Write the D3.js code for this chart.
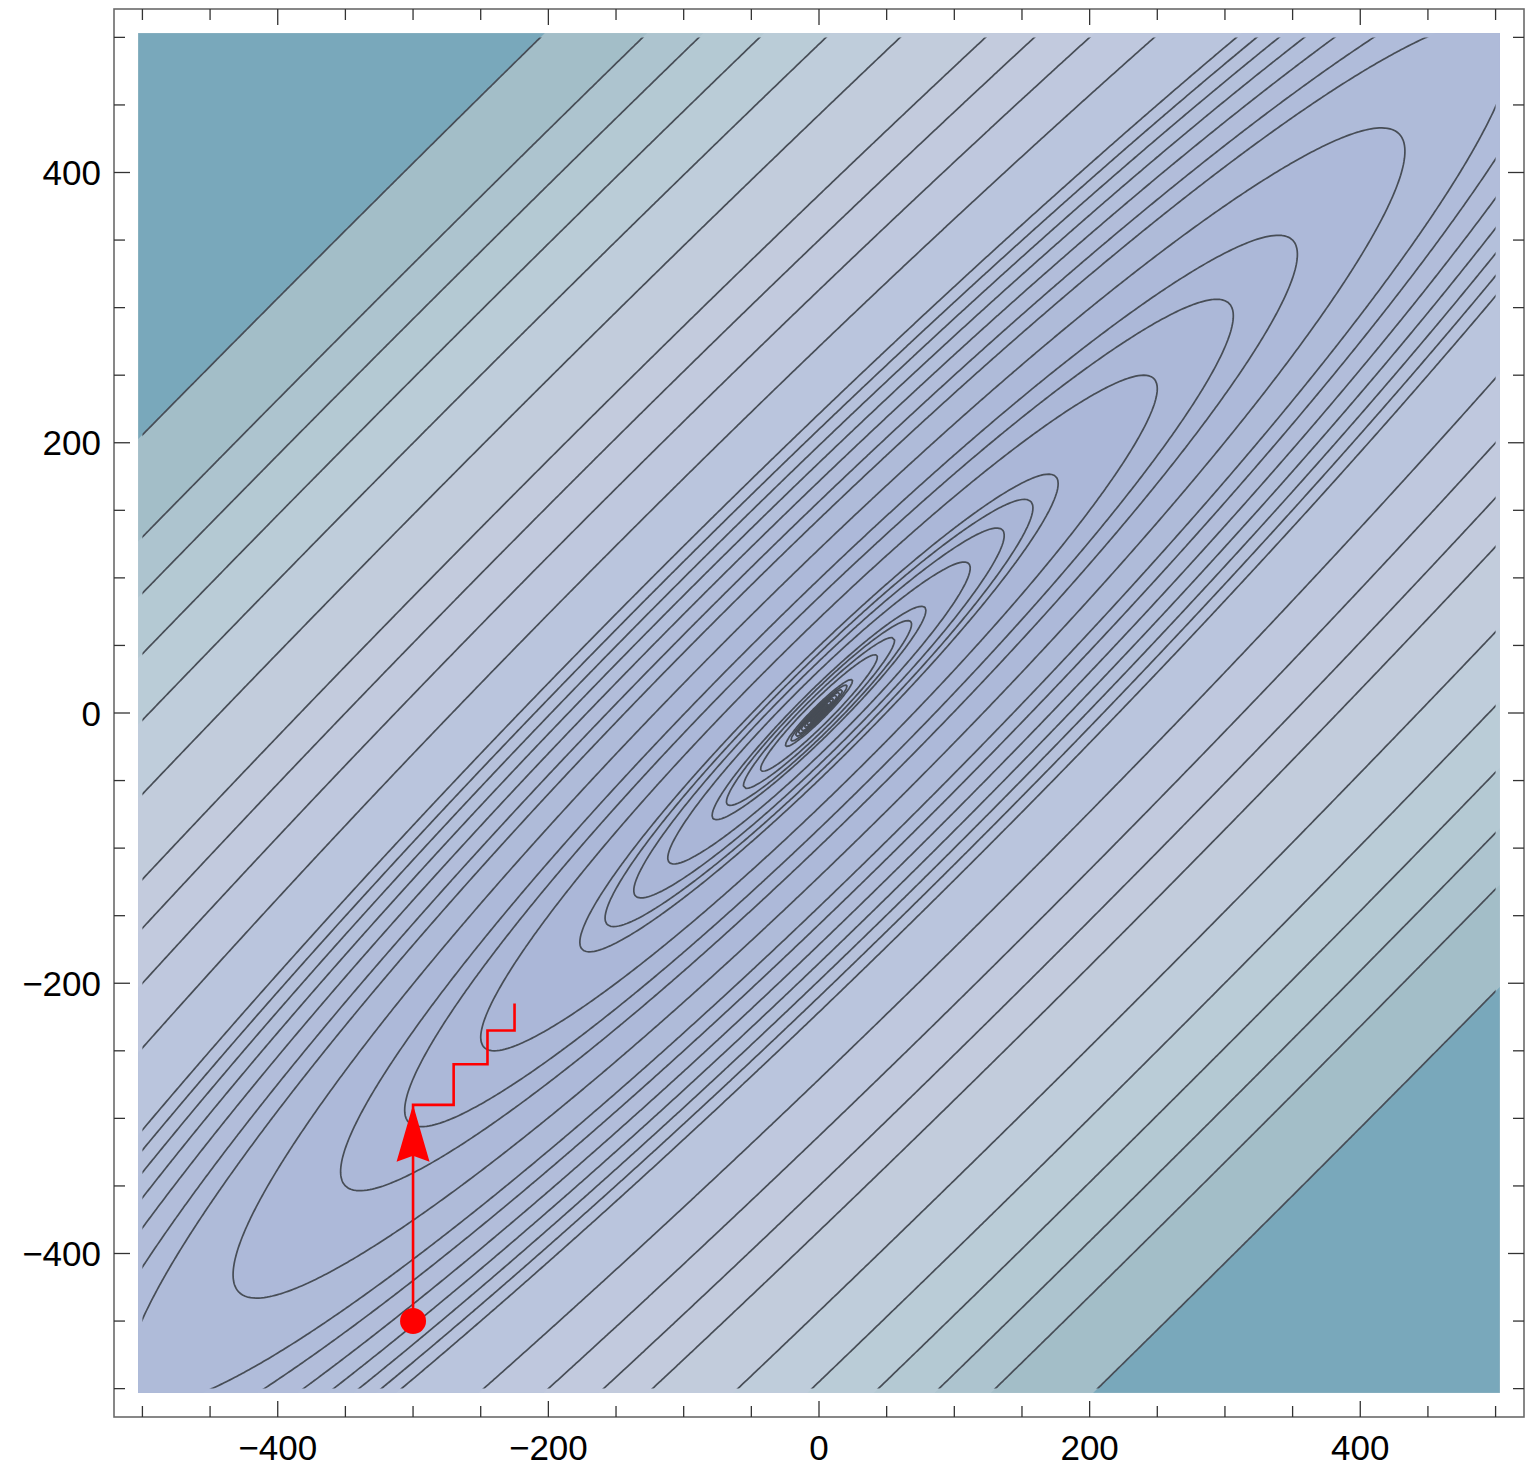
<!DOCTYPE html>
<html>
<head>
<meta charset="utf-8">
<script src="https://cdn.jsdelivr.net/npm/d3@7"></script>
<style>
  body { margin: 0; background: #fff; }
  text { font-family: "Liberation Sans", Arial, sans-serif; }
</style>
</head>
<body>
<script>
// contour levels (units of 50^2 in the valley coordinate)
const contourLevels = [0.0003, 0.0006, 0.001, 0.0015, 0.002, 0.003, 0.004, 0.005,
  0.007, 0.01, 0.03, 0.05, 0.075, 0.1, 0.2, 0.3, 0.4, 0.5, 1, 1.5, 2, 3, 4.2, 5, 6,
  7, 8, 9, 10, 15, 20, 25, 30, 40, 50, 60, 70, 80, 100];

// coordinate descent path (red)
const pathX = [-300, -300, -270, -270, -245, -245, -225, -225];
const pathY = [-450, -290, -290, -260, -260, -235, -235, -215];

const majorTicks = [-400, -200, 0, 200, 400];
const minorTicks = [-500, -450, -350, -300, -250, -150, -100, -50,
  50, 100, 150, 250, 300, 350, 450, 500];
const tickLabels = ["\u2212400", "\u2212200", "0", "200", "400"];

// valley elongation (major / minor axis of the ellipses)
const valleyRatio = 7;

// band colour stops (level -> colour)
const colorLevels = [0, 3, 10, 20, 30, 45, 60, 75, 90, 150];
const colorValues = ["#aab6d7", "#aebad9", "#b8c3dc", "#c1c9de", "#c4cbdd",
  "#bfcddb", "#b8cbd5", "#adc4cf", "#a3bec8", "#79a8bb"];

const W = 1536, H = 1470;

const x = d3.scaleLinear().domain([-521, 521]).range([114, 1524]);
const y = d3.scaleLinear().domain([-521, 521]).range([1417, 9]);
const color = d3.scaleLinear().domain(colorLevels).range(colorValues).clamp(true);

const field = (px, py) => {
  const v = (px - py) / Math.SQRT2, u = (px + py) / Math.SQRT2;
  return (v * v + (u * u) / (valleyRatio * valleyRatio)) / 2500;
};

// sample grid
const step = 2, g0 = -512, n = 513;
const values = new Float64Array(n * n);
for (let j = 0; j < n; j++) {
  for (let i = 0; i < n; i++) {
    values[j * n + i] = field(g0 + i * step, g0 + j * step);
  }
}

const contours = d3.contours().size([n, n]).thresholds(contourLevels)(values);

const proj = d3.geoTransform({
  point: function (gx, gy) {
    this.stream.point(x(g0 + (gx - 0.5) * step), y(g0 + (gy - 0.5) * step));
  }
});
const path = d3.geoPath(proj);

const svg = d3.select("body").append("svg")
  .attr("width", W).attr("height", H);

const defs = svg.append("defs");
defs.append("clipPath").attr("id", "fillClip").append("rect")
  .attr("x", x(-503)).attr("y", y(503))
  .attr("width", x(503) - x(-503)).attr("height", y(-503) - y(503));
defs.append("clipPath").attr("id", "lineClip").append("rect")
  .attr("x", x(-500)).attr("y", y(500))
  .attr("width", x(500) - x(-500)).attr("height", y(-500) - y(500));

// shaded bands
const gFill = svg.append("g").attr("clip-path", "url(#fillClip)");
gFill.append("rect")
  .attr("x", x(-510)).attr("y", y(510))
  .attr("width", x(510) - x(-510)).attr("height", y(-510) - y(510))
  .attr("fill", color(0));
gFill.selectAll("path.band")
  .data(contours)
  .join("path")
  .attr("class", "band")
  .attr("d", path)
  .attr("fill", (d, i) => {
    const hi = i + 1 < contourLevels.length ? contourLevels[i + 1] : 200;
    return color((d.value + hi) / 2);
  });

// contour lines
svg.append("g").attr("clip-path", "url(#lineClip)")
  .selectAll("path")
  .data(contours)
  .join("path")
  .attr("d", path)
  .attr("fill", "none")
  .attr("stroke", "#474d56")
  .attr("stroke-width", 1.7)
  .attr("stroke-linejoin", "round");

// frame
svg.append("rect")
  .attr("x", 114).attr("y", 9).attr("width", 1410).attr("height", 1408)
  .attr("fill", "none").attr("stroke", "#6a6a6a").attr("stroke-width", 1.6);

const gTicks = svg.append("g").attr("stroke", "#333").attr("stroke-width", 1.3);
function drawTicks(vals, len) {
  vals.forEach(v => {
    gTicks.append("line").attr("x1", x(v)).attr("x2", x(v)).attr("y1", 1417).attr("y2", 1417 - len);
    gTicks.append("line").attr("x1", x(v)).attr("x2", x(v)).attr("y1", 9).attr("y2", 9 + len);
    gTicks.append("line").attr("y1", y(v)).attr("y2", y(v)).attr("x1", 114).attr("x2", 114 + len);
    gTicks.append("line").attr("y1", y(v)).attr("y2", y(v)).attr("x1", 1524).attr("x2", 1524 - len);
  });
}
drawTicks(majorTicks, 16);
drawTicks(minorTicks, 11);

svg.append("g").selectAll("text")
  .data(majorTicks)
  .join("text")
  .attr("x", d => x(d)).attr("y", 1460)
  .attr("text-anchor", "middle")
  .attr("font-size", 35)
  .text((d, i) => tickLabels[i]);

svg.append("g").selectAll("text")
  .data(majorTicks)
  .join("text")
  .attr("x", 101).attr("y", d => y(d))
  .attr("dy", "0.36em")
  .attr("text-anchor", "end")
  .attr("font-size", 35)
  .text((d, i) => tickLabels[i]);

// descent path
const pts = pathX.map((v, i) => [v, pathY[i]]);
svg.append("path")
  .attr("d", d3.line().x(d => x(d[0])).y(d => y(d[1]))(pts))
  .attr("fill", "none")
  .attr("stroke", "#ff0000")
  .attr("stroke-width", 2.6);

svg.append("circle")
  .attr("cx", x(pathX[0])).attr("cy", y(pathY[0])).attr("r", 13)
  .attr("fill", "#ff0000");

const tx = x(pathX[1]), ty = y(pathY[1]);
svg.append("path")
  .attr("d", `M${tx},${ty} L${tx - 16.5},${ty + 57} L${tx},${ty + 51} L${tx + 16.5},${ty + 57} Z`)
  .attr("fill", "#ff0000");
</script>
</body>
</html>
